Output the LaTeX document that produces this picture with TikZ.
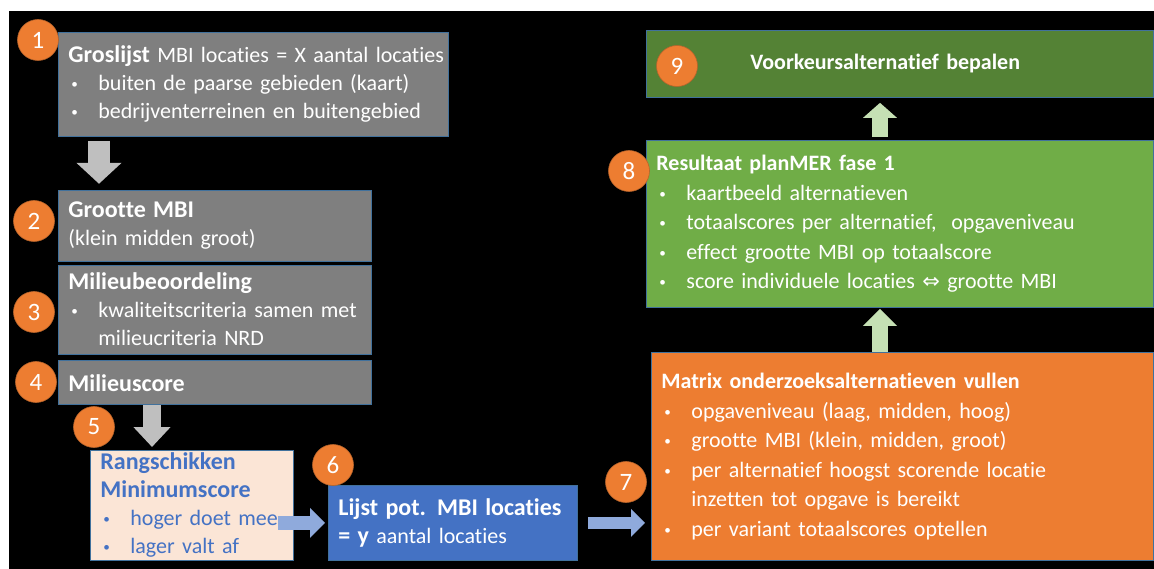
\documentclass[tikz,border=0pt]{standalone}
\usepackage{graphicx}
\usepackage{fontspec}
\setmainfont[Ligatures=NoCommon]{Carlito}
\newfontfamily\symfont{DejaVu Sans}
\usetikzlibrary{arrows.meta,positioning}

\definecolor{boxgray}{HTML}{7F7F7F}
\definecolor{boxline}{HTML}{41719C}
\definecolor{arrowgray}{HTML}{BFBFBF}
\definecolor{peach}{HTML}{FBE5D6}
\definecolor{bluetext}{HTML}{4472C4}
\definecolor{bluebox}{HTML}{4472C4}
\definecolor{bluearrow}{HTML}{8FAADC}
\definecolor{numorange}{HTML}{ED7D31}
\definecolor{numline}{HTML}{B6642C}
\definecolor{boxorange}{HTML}{ED7D31}
\definecolor{boxgreen}{HTML}{70AD47}
\definecolor{darkgreen}{HTML}{548235}
\definecolor{greenarrow}{HTML}{C5E0B4}

\newcommand{\bul}{\makebox[30pt][l]{\hspace{3pt}\raisebox{2pt}{\scalebox{0.6}{\textbullet}}}}
\newcommand{\bulind}{\hspace*{30pt}}
\newcommand{\ttl}[1]{{\fontsize{24}{28}\selectfont\bfseries #1}}

\begin{document}
\begin{tikzpicture}[x=1pt, y=-1pt]
    \tikzstyle{box} = [rectangle, draw=boxline, line width=0.8pt, anchor=north west, align=left, inner xsep=10pt, inner ysep=0pt, text=white, font=\fontsize{22}{28}\selectfont]
    \tikzstyle{num} = [circle, fill=numorange, draw=numline, line width=0.6pt, minimum size=41pt, inner sep=0pt, text=white, font=\fontsize{25}{25}\selectfont]
    \tikzstyle{blockarrow} = [line cap=butt]

    % page and black background
    \path[use as bounding box, fill=white] (0,0) rectangle (1154,569);
    \fill[black] (9,11) rectangle (1154,569);

    % left column
    \node [box, fill=boxgray, text width=370pt, minimum height=104pt] (groslijst) at (58,32)
        {\mbox{\ttl{Groslijst} MBI locaties = X aantal locaties}\\
         \bul buiten de paarse gebieden (kaart)\\
         \bul bedrijventerreinen en buitengebied};
    \node [box, fill=boxgray, text width=293pt, minimum height=71pt, below=53pt of groslijst.south west, anchor=north west] (grootte)
        {\ttl{Grootte MBI}\\
         (klein midden groot)};
    \node [box, fill=boxgray, text width=293pt, minimum height=89pt, below=3pt of grootte.south west, anchor=north west] (beoordeling)
        {\ttl{Milieubeoordeling}\\
         \bul kwaliteitscriteria samen met\\
         \bulind milieucriteria NRD};
    \node [box, fill=boxgray, text width=293pt, minimum height=44pt, below=6pt of beoordeling.south west, anchor=north west] (milieuscore)
        {\ttl{Milieuscore}};

    % bottom row
    \node [box, fill=peach, text=bluetext, text width=183pt, minimum height=110pt] (rangschikken) at (90,450)
        {\ttl{Rangschikken}\\
         \ttl{Minimumscore}\\
         \bul hoger doet mee\\
         \bul lager valt af};
    \node [box, fill=bluebox, text width=229pt, minimum height=75pt] (lijst) at (328,485)
        {\ttl{Lijst pot. MBI locaties}\\
         \ttl{= y} aantal locaties};

    % right column
    \node [box, fill=boxorange, text width=482pt, minimum height=208pt, font=\fontsize{22}{29.5}\selectfont] (matrix) at (651,352)
        {\textbf{Matrix onderzoeksalternatieven vullen}\\
         \bul opgaveniveau (laag, midden, hoog)\\
         \bul grootte MBI (klein, midden, groot)\\
         \bul per alternatief hoogst scorende locatie\\
         \bulind inzetten tot opgave is bereikt\\
         \bul per variant totaalscores optellen};
    \node [box, fill=boxgreen, text width=487pt, minimum height=167pt, font=\fontsize{22}{29.5}\selectfont] (resultaat) at (646,140)
        {\textbf{Resultaat planMER fase 1}\\
         \bul kaartbeeld alternatieven\\
         \bul totaalscores per alternatief,~ opgaveniveau\\
         \bul effect grootte MBI op totaalscore\\
         \bul score individuele locaties {\symfont\fontsize{21}{29}\selectfont ⇔} grootte MBI};
    \node [box, fill=darkgreen, text width=487pt, minimum height=67pt] (voorkeur) at (646,30)
        {\hspace*{94pt}\textbf{Voorkeursalternatief bepalen}};

    % block arrows
    \draw [blockarrow, draw=arrowgray, line width=22pt, -{Triangle[length=21pt, width=44pt]}]
        ([xshift=41pt, yshift=-4pt]groslijst.south west) -- ([xshift=41pt, yshift=6pt]grootte.north west);
    \draw [blockarrow, draw=arrowgray, line width=18pt, -{Triangle[length=20pt, width=36pt]}]
        ([xshift=94pt]milieuscore.south west) -- ([xshift=62pt, yshift=3pt]rangschikken.north west);
    \draw [blockarrow, draw=bluearrow, line width=14pt, -{Triangle[length=15pt, width=29pt]}]
        ([xshift=-16pt, yshift=-17.5pt]rangschikken.east) -- ([xshift=-3pt]lijst.west);
    \draw [blockarrow, draw=bluearrow, line width=12pt, -{Triangle[length=14pt, width=27pt]}]
        ([xshift=10pt]lijst.east) -- ([xshift=-6pt, yshift=-66.5pt]matrix.west);
    \draw [blockarrow, draw=greenarrow, line width=16pt, -{Triangle[length=17pt, width=33pt]}]
        ([xshift=229pt]matrix.north west) -- ([xshift=234pt, yshift=-1pt]resultaat.south west);
    \draw [blockarrow, draw=greenarrow, line width=16pt, -{Triangle[length=15pt, width=33pt]}]
        ([xshift=234pt, yshift=3pt]resultaat.north west) -- ([xshift=234pt, yshift=-5pt]voorkeur.south west);

    % step numbers
    \node [num] (n1) at (38,40) {1};
    \node [num] (n2) at (34,221) {2};
    \node [num] (n3) at (34,312) {3};
    \node [num] (n4) at (36,382) {4};
    \node [num] (n5) at (94,427) {5};
    \node [num] (n6) at (333,465) {6};
    \node [num] (n7) at (626,482) {7};
    \node [num] (n8) at (629,171) {8};
    \node [num] (n9) at (677,66) {9};
\end{tikzpicture}
\end{document}
